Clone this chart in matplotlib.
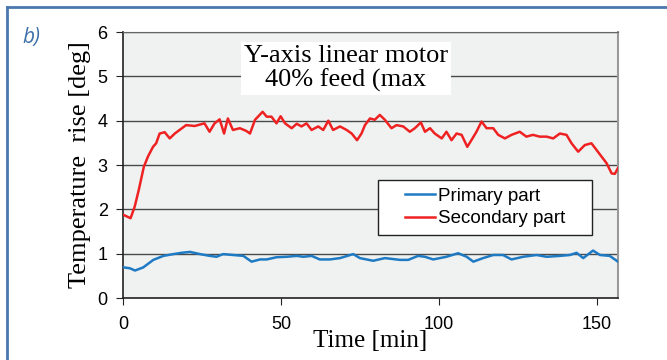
import matplotlib
matplotlib.use('Agg')
import matplotlib.pyplot as plt
from matplotlib.lines import Line2D
from matplotlib.patches import Rectangle

# ── data ─────────────────────────────────────────────────────
t_sec = [0.3, 2.4, 3.7, 5.0, 6.6, 7.9, 9.5, 10.5, 11.6, 13.2, 14.8, 16.4, 17.9,
         20.0, 22.7, 25.8, 27.4, 29.0, 30.6, 32.0, 33.2, 34.8, 37.0, 39.0, 40.2,
         41.8, 44.2, 45.5, 47.0, 48.6, 49.9, 51.3, 53.4, 55.0, 56.5, 58.1, 59.7,
         61.8, 63.4, 65.0, 66.5, 68.7, 70.8, 72.4, 74.1, 75.5, 76.6, 78.2, 79.7,
         81.3, 82.9, 85.0, 86.6, 88.7, 90.8, 92.4, 94.3, 95.6, 97.2, 98.7, 100.9,
         102.4, 104.0, 105.6, 107.2, 109.0, 110.3, 111.9, 113.5, 115.1, 117.2,
         118.8, 120.9, 123.0, 125.6, 127.7, 129.8, 131.9, 134.1, 136.2, 138.3,
         140.4, 142.0, 144.1, 146.2, 148.3, 149.9, 151.5, 153.1, 154.7, 155.7, 156.7]
secondary = [1.87, 1.80, 2.06, 2.44, 2.96, 3.19, 3.41, 3.49, 3.71, 3.74, 3.60, 3.71, 3.79,
             3.90, 3.88, 3.94, 3.75, 3.94, 4.03, 3.71, 4.05, 3.79, 3.83, 3.77, 3.71,
             4.02, 4.20, 4.09, 4.09, 3.94, 4.10, 3.94, 3.83, 3.93, 3.87, 3.94, 3.79,
             3.87, 3.79, 4.00, 3.79, 3.87, 3.79, 3.71, 3.56, 3.71, 3.90, 4.05, 4.02,
             4.13, 4.02, 3.83, 3.90, 3.87, 3.75, 3.83, 3.96, 3.75, 3.83, 3.71, 3.60,
             3.75, 3.56, 3.71, 3.68, 3.41, 3.56, 3.75, 3.98, 3.83, 3.83,
             3.68, 3.60, 3.68, 3.75, 3.64, 3.68, 3.64, 3.64, 3.60, 3.71,
             3.68, 3.49, 3.30, 3.45, 3.49, 3.34, 3.19, 3.04, 2.81, 2.80, 2.93]

t_prim = [0.3, 2.2, 3.8, 6.4, 9.6, 12.8, 15.9, 18.6, 21.2, 24.4, 27.5, 29.6, 31.7,
          34.9, 38.1, 40.7, 43.4, 45.5, 48.6, 51.8, 55.0, 57.1, 59.7, 62.3, 65.5,
          68.7, 72.9, 75.0, 79.2, 82.9, 87.7, 90.3, 93.4, 95.6, 98.2, 102.4, 106.1,
          108.8, 110.9, 114.0, 117.2, 120.3, 123.0, 126.7, 130.9, 134.1, 138.3,
          141.5, 143.6, 145.7, 148.8, 151.0, 154.1, 156.7]
primary = [0.69, 0.67, 0.62, 0.69, 0.86, 0.95, 0.99, 1.02, 1.04, 0.99, 0.95, 0.93, 0.99,
           0.97, 0.95, 0.82, 0.87, 0.87, 0.92, 0.93, 0.95, 0.93, 0.95, 0.87, 0.87,
           0.90, 0.99, 0.90, 0.84, 0.90, 0.86, 0.86, 0.95, 0.93, 0.87, 0.93, 1.01,
           0.93, 0.82, 0.90, 0.97, 0.97, 0.87, 0.93, 0.97, 0.93, 0.95,
           0.97, 1.02, 0.90, 1.07, 0.97, 0.95, 0.82]

x_ticks = [0, 50, 100, 150]
y_ticks = [0, 1, 2, 3, 4, 5, 6]

C_RED = '#ee2222'
C_BLUE = '#1f7ac4'
C_FRAME = '#4a78ad'
SERIF = ['Liberation Serif', 'DejaVu Serif']
SANS = ['Liberation Sans', 'DejaVu Sans']

fig = plt.figure(figsize=(6.67, 3.6), dpi=100)
ax = fig.add_axes([0.1844, 0.1722, 0.7421, 0.7389])
ax.set_facecolor('#f0f2f2')

for y in y_ticks[1:]:
    ax.axhline(y, color='#4a4a4a', linewidth=1.0, zorder=1)

ax.plot(t_prim, primary, color=C_BLUE, linewidth=1.8, zorder=3)
ax.plot(t_sec, secondary, color=C_RED, linewidth=1.8, zorder=3)

ax.set_xlim(0, 156.7)
ax.set_ylim(0, 6)
ax.set_xticks(x_ticks)
ax.set_yticks(y_ticks)
ax.set_xticklabels([str(v) for v in x_ticks], fontsize=13, family=SANS)
ax.set_yticklabels([str(v) for v in y_ticks], fontsize=13, family=SANS)
ax.tick_params(axis='x', length=5, pad=8, color='#222')
ax.tick_params(axis='y', length=5, pad=6, color='#222')

for s in ['left', 'bottom']:
    ax.spines[s].set_color('#222')
    ax.spines[s].set_linewidth(1.2)
ax.spines['top'].set_color('#666')
ax.spines['right'].set_color('#999')
ax.spines['right'].set_linewidth(1.5)

ax.set_ylabel('Temperature  rise [deg]', fontsize=19, family=SERIF, labelpad=5)
ax.text(0.5, -0.16, 'Time [min]', transform=ax.transAxes, ha='center', va='center',
        fontsize=18, family=SERIF)

# annotation box
ax.text(0.450, 0.862, 'Y-axis linear motor\n40% feed (max', transform=ax.transAxes,
        ha='center', va='center', fontsize=19, family=SERIF, linespacing=1.1,
        bbox=dict(boxstyle='square,pad=0.12', facecolor='white', edgecolor='none'),
        zorder=5)

# legend: frame drawn separately, entries centred inside it
ax.add_patch(Rectangle((0.515, 0.237), 0.432, 0.207, transform=ax.transAxes,
                       facecolor='white', edgecolor='#222', linewidth=1.0, zorder=6))
handles = [Line2D([], [], color=C_BLUE, linewidth=1.8),
           Line2D([], [], color=C_RED, linewidth=1.8)]
leg = ax.legend(handles, ['Primary part', 'Secondary part'],
                bbox_to_anchor=(0.731, 0.3405), loc='center', frameon=False,
                prop={'family': SANS, 'size': 13.5}, handlelength=1.6,
                handletextpad=0.15, borderpad=0, labelspacing=0.3,
                borderaxespad=0)
leg.set_zorder(7)

# outer panel frame and label
fig.add_artist(Line2D([7 / 667, 7 / 667], [0, 1 - 7 / 360], color=C_FRAME, linewidth=2,
                      transform=fig.transFigure))
fig.add_artist(Line2D([7 / 667, 1], [1 - 7 / 360, 1 - 7 / 360], color=C_FRAME, linewidth=2,
                      transform=fig.transFigure))
fig.text(22 / 667, 1 - 38 / 360, 'b)', fontsize=15, style='italic', color='#3d6fa8',
         family=['Open Sans', 'DejaVu Sans'], ha='left', va='center')

fig.savefig('out.png', dpi=100, facecolor='white')
